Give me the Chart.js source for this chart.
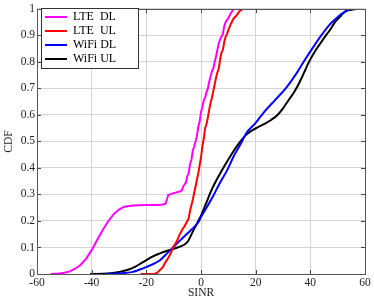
<!DOCTYPE html>
<html>
<head>
<meta charset="utf-8">
<script src="https://cdn.jsdelivr.net/npm/chart.js@4.4.1/dist/chart.umd.min.js"></script>
<style>
  html, body { margin: 0; padding: 0; background: #fff; }
  #wrap { width: 374px; height: 300px; }
</style>
</head>
<body>
<div id="wrap"><canvas id="cdf" width="374" height="300"></canvas></div>
<script>
const xTicks = [-60, -40, -20, 0, 20, 40, 60];
const yTicks = [0, 0.1, 0.2, 0.3, 0.4, 0.5, 0.6, 0.7, 0.8, 0.9, 1];

const lteDlX = [-55, -52, -50, -48, -46, -44, -42, -40, -38, -36, -34, -32, -30, -28, -25, -20, -16, -14, -13, -12.5, -12, -10, -8, -7, -6.5, -5.5, -5, -4.5, -4, -3.5, -3, -2.5, -2, -1.5, -1, -0.5, 0, 0.5, 1, 1.5, 2, 2.5, 3, 3.5, 4, 4.5, 5, 5.5, 6, 6.5, 7, 7.5, 8, 8.5, 9, 10, 11, 12];
const lteDlY = [0, 0.002, 0.005, 0.01, 0.02, 0.035, 0.058, 0.09, 0.128, 0.165, 0.198, 0.225, 0.243, 0.254, 0.258, 0.26, 0.26, 0.262, 0.265, 0.28, 0.298, 0.305, 0.31, 0.315, 0.33, 0.345, 0.37, 0.38, 0.415, 0.43, 0.465, 0.48, 0.50, 0.52, 0.555, 0.575, 0.61, 0.63, 0.655, 0.665, 0.685, 0.70, 0.725, 0.745, 0.765, 0.775, 0.80, 0.82, 0.845, 0.87, 0.885, 0.895, 0.905, 0.935, 0.95, 0.965, 0.985, 1.0];

const lteUlX = [-22, -17, -16, -15, -14, -13, -12, -11, -10, -9, -8, -7, -6, -5, -4.5, -4, -3, -2, -1, -0.5, 0, 0.5, 1, 1.5, 2, 2.5, 3, 3.5, 4, 4.5, 5, 5.5, 6, 6.5, 7, 7.5, 8, 8.5, 9, 9.5, 10, 11, 12, 13, 14, 15, 15.5];
const lteUlY = [0, 0, 0.005, 0.015, 0.025, 0.045, 0.06, 0.08, 0.105, 0.12, 0.145, 0.165, 0.18, 0.2, 0.21, 0.24, 0.28, 0.33, 0.38, 0.41, 0.44, 0.48, 0.51, 0.55, 0.565, 0.59, 0.62, 0.645, 0.665, 0.69, 0.715, 0.74, 0.76, 0.775, 0.81, 0.835, 0.845, 0.875, 0.895, 0.905, 0.92, 0.945, 0.965, 0.975, 0.99, 0.998, 1.0];

const wifiDlX = [-35, -30, -25, -21, -18, -15, -13, -11, -8, -5, -3, -1, 0, 2, 4.5, 7, 9.5, 12, 14.5, 16.5, 20, 23, 27, 31, 34.5, 37.5, 41, 44, 47, 49, 52, 55, 60];
const wifiDlY = [0, 0.002, 0.008, 0.022, 0.035, 0.052, 0.072, 0.092, 0.123, 0.153, 0.172, 0.195, 0.215, 0.25, 0.295, 0.345, 0.39, 0.445, 0.49, 0.53, 0.57, 0.61, 0.655, 0.70, 0.75, 0.80, 0.855, 0.90, 0.94, 0.96, 0.985, 1.0, 1.0];

const wifiUlX = [-40.6, -36, -33, -30, -27, -24, -22, -20, -18, -15, -11, -8, -5, -3, -1, 0, 2, 4, 6.5, 9, 12, 14, 16.2, 18, 20.5, 23, 25.5, 28, 30, 32, 34, 35.6, 37.5, 39.5, 42, 44, 45.7, 47.5, 49, 51, 52.7, 55, 57, 60];
const wifiUlY = [0, 0.001, 0.003, 0.008, 0.015, 0.028, 0.04, 0.052, 0.065, 0.078, 0.092, 0.102, 0.12, 0.16, 0.2, 0.22, 0.27, 0.32, 0.37, 0.415, 0.465, 0.495, 0.522, 0.537, 0.552, 0.565, 0.58, 0.60, 0.625, 0.655, 0.685, 0.714, 0.755, 0.80, 0.845, 0.875, 0.90, 0.925, 0.95, 0.972, 0.99, 0.997, 1.0, 1.0];

const pts = (xs, ys) => xs.map((x, i) => ({x: x, y: ys[i]}));
const serif = "'Liberation Serif', 'DejaVu Serif', serif";

// ..................petits traits de graduation + cadre........................
const framePlugin = {
    id: 'frame',
    afterLayout(chart) {
        // pousse la legende un peu vers l'interieur
        chart.legend.left += 6;
        chart.legend.top += 9;
    },
    afterDatasetsDraw(chart) {
        const c = chart.ctx, a = chart.chartArea;
        const xs = chart.scales.x, ys = chart.scales.y;
        c.save();
        c.strokeStyle = '#444';
        c.lineWidth = 1;
        c.beginPath();
        xTicks.forEach(v => {
            const p = Math.round(xs.getPixelForValue(v)) + 0.5;
            c.moveTo(p, a.bottom); c.lineTo(p, a.bottom - 4);
            c.moveTo(p, a.top); c.lineTo(p, a.top + 4);
        });
        yTicks.forEach(v => {
            const p = Math.round(ys.getPixelForValue(v)) + 0.5;
            c.moveTo(a.left, p); c.lineTo(a.left + 4, p);
            c.moveTo(a.right, p); c.lineTo(a.right - 4, p);
        });
        c.stroke();
        c.strokeStyle = '#555';
        c.strokeRect(Math.round(a.left) + 0.5, Math.round(a.top) + 0.5, Math.round(a.right - a.left), Math.round(a.bottom - a.top));

        // boite de legende
        const hb = chart.legend.legendHitBoxes;
        if (hb && hb.length) {
            const l = Math.min(...hb.map(h => h.left)) - 4;
            const t = Math.min(...hb.map(h => h.top)) - 3;
            const r = Math.max(...hb.map(h => h.left + h.width)) + 22;
            const b = Math.max(...hb.map(h => h.top + h.height)) + 3;
            c.fillStyle = '#fff';
            c.fillRect(l, t, r - l, b - t);
            c.strokeStyle = '#333';
            c.strokeRect(Math.round(l) + 0.5, Math.round(t) + 0.5, Math.round(r - l), Math.round(b - t));
        }
        c.restore();
        chart.legend.draw();
    }
};

const ctx = document.getElementById('cdf').getContext('2d');
const chart = new Chart(ctx, {
    type: 'line',
    data: {
        datasets: [{
            label: 'LTE  DL',
            data: pts(lteDlX, lteDlY),
            borderColor: '#ff00ff',
            backgroundColor: '#ff00ff',
            borderWidth: 2,
            pointRadius: 0,
            tension: 0
        }, {
            label: 'LTE  UL',
            data: pts(lteUlX, lteUlY),
            borderColor: '#ff0000',
            backgroundColor: '#ff0000',
            borderWidth: 2,
            pointRadius: 0,
            tension: 0
        }, {
            label: 'WiFi DL',
            data: pts(wifiDlX, wifiDlY),
            borderColor: '#0000ff',
            backgroundColor: '#0000ff',
            borderWidth: 2,
            pointRadius: 0,
            cubicInterpolationMode: 'monotone'
        }, {
            label: 'WiFi UL',
            data: pts(wifiUlX, wifiUlY),
            borderColor: '#000000',
            backgroundColor: '#000000',
            borderWidth: 2,
            pointRadius: 0,
            cubicInterpolationMode: 'monotone'
        }]
    },
    options: {
        responsive: false,
        animation: false,
        events: [],
        layout: {
            padding: {left: 0, right: 9, top: 7, bottom: 0}
        },
        plugins: {
            tooltip: {enabled: false},
            legend: {
                position: 'chartArea',
                align: 'start',
                labels: {
                    usePointStyle: true,
                    pointStyle: 'line',
                    pointStyleWidth: 22,
                    padding: 2,
                    color: '#000',
                    font: {family: serif, size: 12}
                }
            }
        },
        scales: {
            x: {
                type: 'linear',
                min: -60,
                max: 60,
                afterBuildTicks: s => { s.ticks = xTicks.map(v => ({value: v})); },
                afterFit: s => { s.height = 26; },
                grid: {color: '#d4d4d4', drawTicks: false},
                border: {display: false},
                ticks: {padding: 2, color: '#222', font: {family: serif, size: 11.5}, maxRotation: 0},
                title: {display: true, text: 'SINR', color: '#222', padding: {top: 0, bottom: 0}, font: {family: serif, size: 11.5}}
            },
            y: {
                type: 'linear',
                min: 0,
                max: 1,
                afterBuildTicks: s => { s.ticks = yTicks.map(v => ({value: v})); },
                afterFit: s => { s.width = 37; },
                grid: {color: '#d4d4d4', drawTicks: false},
                border: {display: false},
                ticks: {
                    padding: 2, color: '#222', font: {family: serif, size: 11.5},
                    callback: v => String(Math.round(v * 10) / 10)
                },
                title: {display: true, text: 'CDF', color: '#222', padding: {top: 2, bottom: 0}, font: {family: serif, size: 11.5}}
            }
        }
    },
    plugins: [framePlugin]
});
</script>
</body>
</html>
